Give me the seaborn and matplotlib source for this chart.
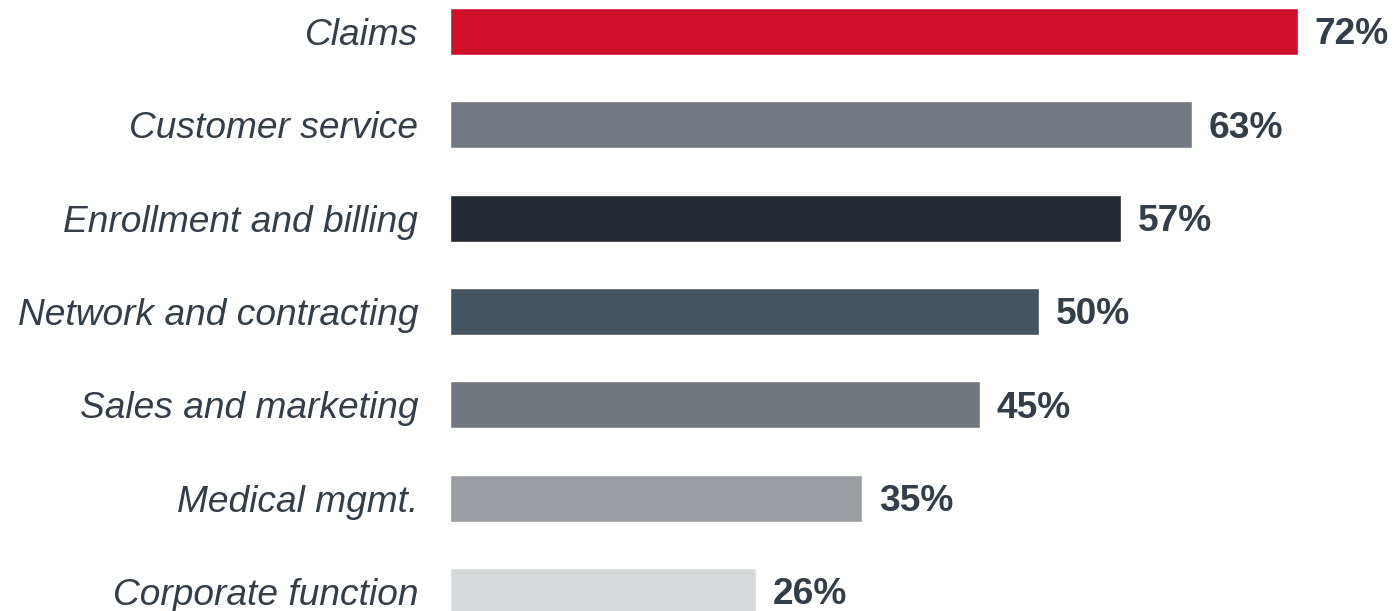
import matplotlib
matplotlib.use("Agg")
import matplotlib.pyplot as plt
import seaborn as sns
import pandas as pd

categories = ["Claims", "Customer service", "Enrollment and billing",
              "Network and contracting", "Sales and marketing",
              "Medical mgmt.", "Corporate function"]
values = [72, 63, 57, 50, 45, 35, 26]
colors = ["#CF102D", "#737980", "#232A32", "#455462", "#72777E", "#9A9EA2", "#D6DADB"]
labels = [f"{v}%" for v in values]

sns.set_theme(style="white")
plt.rcParams['font.family'] = ['Liberation Sans', 'DejaVu Sans']

df = pd.DataFrame({"category": categories, "value": values})

fig = plt.figure(figsize=(13.94, 6.11), dpi=100)
ax = fig.add_axes([450/1394, -0.0445, (1392.4-450)/1394, 1.0694])

sns.barplot(data=df, x="value", y="category", hue="category",
            palette=dict(zip(categories, colors)), order=categories,
            legend=False, width=0.504, saturation=1, ax=ax)

text_color = "#333E48"
fs = 26.7
for cont, lab in zip(ax.containers, labels):
    for bar in cont:
        ax.annotate(lab, xy=(bar.get_width(), bar.get_y() + bar.get_height() / 2),
                    xytext=(12, -2.5), textcoords="offset points",
                    ha="left", va="center", fontsize=fs,
                    fontweight="bold", color=text_color, annotation_clip=False)

ax.set_xlim(0, 80)
ax.set_ylim(6.5, -0.5)
ax.set_xlabel("")
ax.set_ylabel("")
ax.set_xticks([])
ax.tick_params(axis="y", length=0, pad=23)
for t in ax.get_yticklabels():
    t.set_fontsize(fs)
    t.set_fontstyle("italic")
    t.set_color(text_color)
for s in ax.spines.values():
    s.set_visible(False)

fig.savefig("out.png", dpi=100)
